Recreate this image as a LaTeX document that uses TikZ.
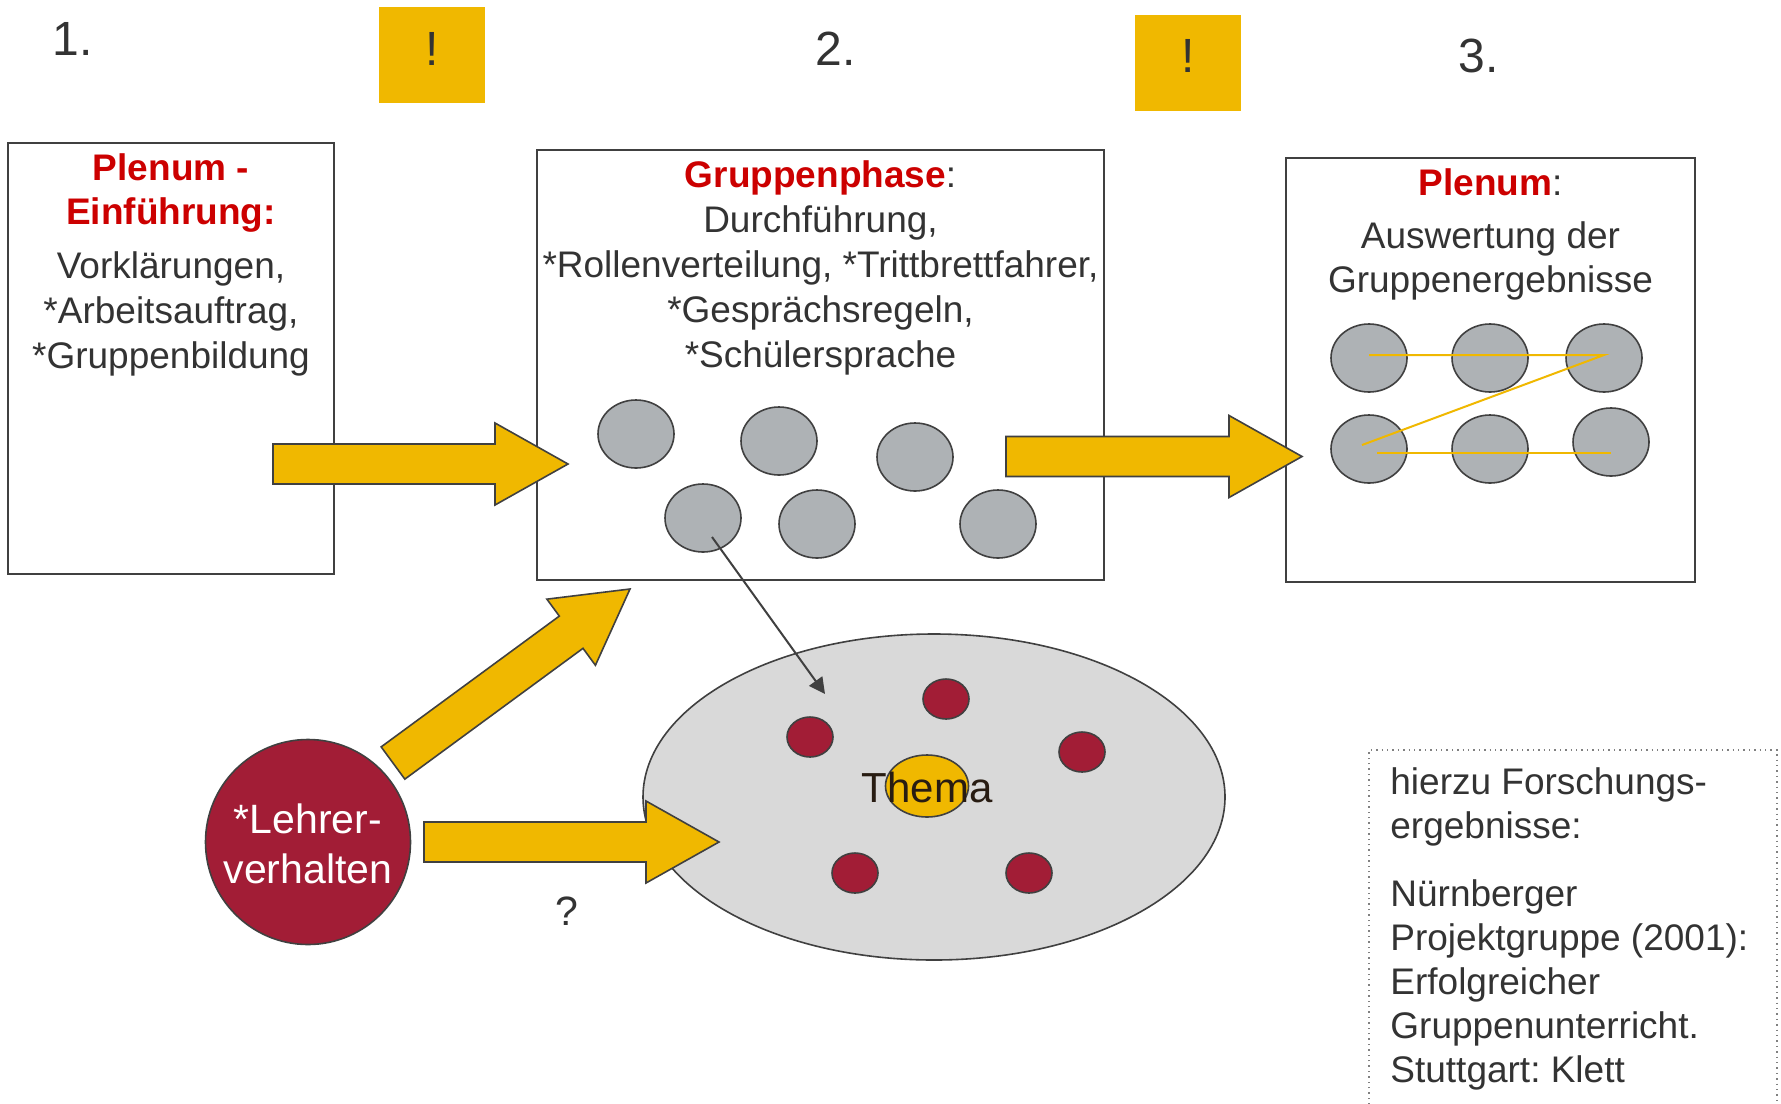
\documentclass[tikz,border=0pt]{standalone}
\usepackage{fontspec}
\setmainfont{Liberation Sans}
\frenchspacing
\usetikzlibrary{shapes.geometric,calc,arrows.meta}
\definecolor{gold}{RGB}{240,184,0}
\definecolor{txt}{RGB}{51,51,51}
\definecolor{redtxt}{RGB}{204,0,0}
\definecolor{wine}{RGB}{162,29,54}
\definecolor{grayc}{RGB}{174,178,181}
\definecolor{ellfill}{RGB}{217,217,217}
\definecolor{edge}{RGB}{64,64,64}
\definecolor{themetxt}{RGB}{40,28,18}
\newcommand\blockarrow[3]{%
  \coordinate (#1h) at ($(#3)!36.5pt!(#2)$);
  \path[blockarr] ($(#2)!10pt!90:(#3)$) -- ($(#1h)!10pt!-90:(#2)$)
    -- ($(#1h)!20.5pt!-90:(#2)$) -- (#3) -- ($(#1h)!20.5pt!90:(#2)$)
    -- ($(#1h)!10pt!90:(#2)$) -- ($(#2)!10pt!-90:(#3)$) -- cycle;
}
\begin{document}
\begin{tikzpicture}[x=0.5pt,y=-0.5pt,
  panel/.style={draw=edge, line width=0.8pt, fill=white, inner sep=0pt},
  bang/.style={fill=gold, inner sep=0pt, minimum width=53pt, minimum height=48pt},
  bodytxt/.style={text=txt, inner sep=0pt, align=center, font=\fontsize{18.5pt}{22.5pt}\selectfont},
  titletxt/.style={text=redtxt, inner sep=0pt, align=center, font=\fontsize{18.5pt}{22pt}\selectfont\bfseries},
  numtxt/.style={text=txt, inner sep=0pt, font=\fontsize{24pt}{28pt}\selectfont},
  grayell/.style={ellipse, fill=grayc, draw=edge, line width=0.8pt, inner sep=0pt, minimum width=38pt, minimum height=34pt},
  dot/.style={ellipse, fill=wine, draw=edge, line width=0.8pt, inner sep=0pt, minimum width=23pt, minimum height=20pt},
  blockarr/.style={fill=gold, draw=edge, line width=0.8pt, line join=miter},
  zline/.style={draw=gold, line width=1pt}
]
\useasboundingbox (0,0) rectangle (1781,1103);
\fill[white] (0,0) rectangle (1781,1103);

% top labels
\node[numtxt, anchor=base west] (n1) at (52,55) {1.};
\node[numtxt, anchor=base west] (n2) at (815,65) {2.};
\node[numtxt, anchor=base west] (n3) at (1458,72) {3.};
\node[bang] (b1) at (432,55) {};
\node[bang] (b2) at (1188,63) {};
\node[numtxt, anchor=base] (b1t) at (432,65) {!};
\node[numtxt, anchor=base] (b2t) at (1188,72) {!};

% boxes
\node[panel, minimum width=163pt, minimum height=215.5pt] (box1) at (171,358.5) {};
\node[panel, minimum width=283.5pt, minimum height=215pt] (box2) at (820.5,365) {};
\node[panel, minimum width=204.5pt, minimum height=212pt] (box3) at (1490.5,370) {};

% multi-line nodes: base anchor = baseline of last line
\node[titletxt, anchor=base] (t1) at (171,224) {Plenum -\\Einführung:};
\node[bodytxt, anchor=base] (t1b) at (171,368) {Vorklärungen,\\*Arbeitsauftrag,\\*Gruppenbildung};
\node[bodytxt, anchor=base] (t2) at (820.5,367) {{\color{redtxt}\bfseries Gruppenphase}:\\Durchführung,\\*Rollenverteilung, *Trittbrettfahrer,\\*Gesprächsregeln,\\*Schülersprache};
\node[bodytxt, anchor=base] (t3) at (1490.5,195) {{\color{redtxt}\bfseries Plenum}:};
\node[bodytxt, anchor=base, font=\fontsize{18.5pt}{22pt}\selectfont] (t3b) at (1490.5,292) {Auswertung der\\Gruppenergebnisse};

% groups in phase 2
\node[grayell] (g1) at (636,434) {};
\node[grayell] (g2) at (779,441) {};
\node[grayell] (g3) at (915,457) {};
\node[grayell] (g4) at (703,518) {};
\node[grayell] (g5) at (817,524) {};
\node[grayell] (g6) at (998,524) {};

% groups in phase 3
\node[grayell] (r1) at (1369,358) {};
\node[grayell] (r2) at (1490,358) {};
\node[grayell] (r3) at (1604,358) {};
\node[grayell] (r4) at (1369,449) {};
\node[grayell] (r5) at (1490,449) {};
\node[grayell] (r6) at (1611,442) {};
\draw[zline] ($(r1.center)+(0,-3)$) -- ($(r3.center)+(0,-3)$) -- ($(r4.center)+(-7,-4)$);
\draw[zline] ($(r4.center)+(8,4)$) -- ($(r6.center)+(0,11)$);

% topic ellipse
\node[ellipse, fill=ellfill, draw=edge, line width=0.8pt, inner sep=0pt, minimum width=291pt, minimum height=163pt] (topic) at (934,797) {};
\node[dot] (d1) at (810,737) {};
\node[dot] (d2) at (946,699) {};
\node[dot] (d3) at (1082,752) {};
\node[dot] (d4) at (855,873) {};
\node[dot] (d5) at (1029,873) {};
\node[ellipse, fill=gold, draw=edge, line width=0.8pt, inner sep=0pt, minimum width=41.5pt, minimum height=31pt] (thema) at (927,786) {};
\node[anchor=base, inner sep=0pt, text=themetxt, font=\fontsize{21pt}{25pt}\selectfont] (thematxt) at (927,802) {Thema};

% teacher
\node[circle, fill=wine, draw=edge, line width=0.8pt, inner sep=0pt, minimum size=102.5pt] (lehrer) at (308,842) {};
\node[anchor=base, align=center, inner sep=0pt, text=white, font=\fontsize{20.5pt}{25pt}\selectfont] (lehrertxt) at (308,883) {*Lehrer-\\verhalten};
\node[anchor=base, inner sep=0pt, text=txt, font=\fontsize{20.5pt}{25pt}\selectfont] (q) at (567,925) {?};

% block arrows
\coordinate (aAs) at (273,464);
\coordinate (aAe) at (568,464);
\coordinate (aBs) at (1006,456.5);
\coordinate (aBe) at (1302,456.5);
\coordinate (aCs) at (393,763);
\coordinate (aCe) at (630,589);
\coordinate (aDs) at (424,842);
\coordinate (aDe) at (719,842);
\blockarrow{aA}{aAs}{aAe}
\blockarrow{aB}{aBs}{aBe}
\blockarrow{aC}{aCs}{aCe}
\blockarrow{aD}{aDs}{aDe}

% thin arrow
\coordinate (ts) at ($(g4.center)+(9,19)$);
\coordinate (te) at (825,694);
\draw[edge, line width=1pt, -{Triangle[length=8pt,width=8pt]}] (ts) -- (te);

% reference box
\draw[dotted, draw=gray, line width=0.7pt] (1369,1110) -- (1369,750) -- (1777,750) -- (1777,1110);
\node[anchor=base west, align=left, inner sep=0pt, text=txt, font=\fontsize{18.5pt}{22pt}\selectfont] (ref1) at (1390,838) {hierzu Forschungs-\\ergebnisse:};
\node[anchor=base west, align=left, inner sep=0pt, text=txt, font=\fontsize{18.5pt}{22pt}\selectfont] (ref2) at (1390,1082) {Nürnberger\\Projektgruppe (2001):\\Erfolgreicher\\Gruppenunterricht.\\Stuttgart: Klett};
\end{tikzpicture}
\end{document}
